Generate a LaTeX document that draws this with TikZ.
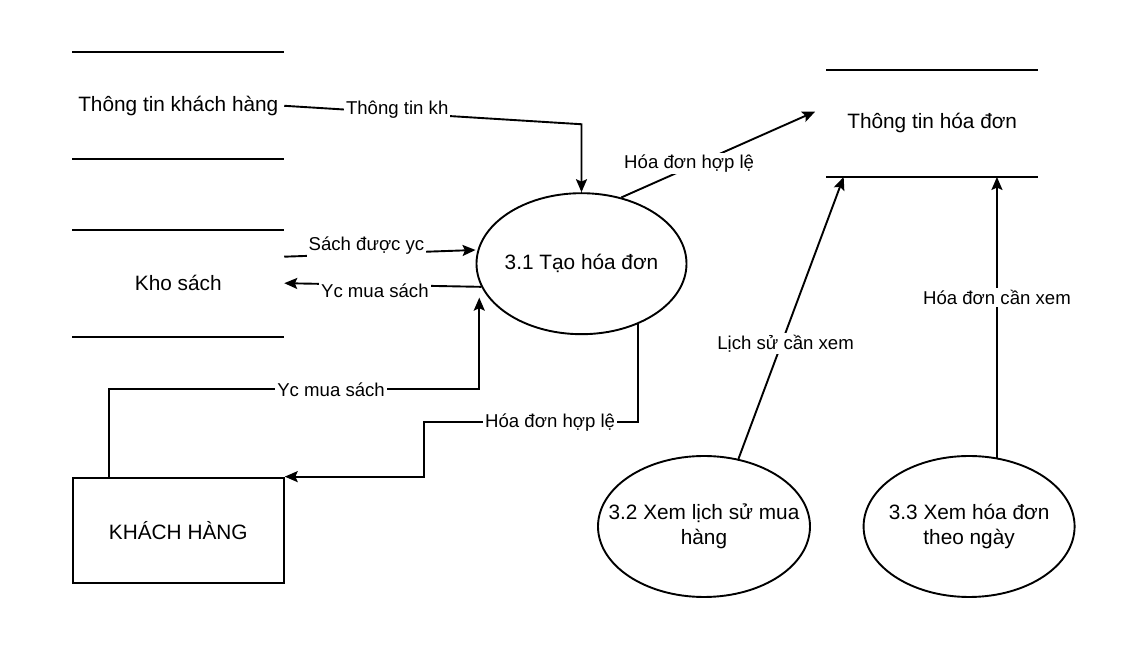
\documentclass[tikz,border=0pt]{standalone}
\usepackage{fontspec}
\setmainfont{Liberation Sans}
\usetikzlibrary{shapes,arrows.meta}
\usetikzlibrary{positioning}
\newcommand{\nodefont}{\fontsize{10.4}{12.5}\selectfont}
\newcommand{\flowfont}{\fontsize{9.3}{11}\selectfont}
\newcommand{\store}[3]{\node[store](#1)[#2]{#3}; \draw (#1.north west) -- (#1.north east) (#1.south west) -- (#1.south east);}
\newcommand{\proc}[4][105pt]{\node[ellipse,draw,minimum width=#1,minimum height=70.5pt,inner sep=0pt,label={[align=center,font=\nodefont]center:#4}](#2)[#3]{};}
\tikzset{
  store/.style={minimum width=105pt,minimum height=52.5pt,inner sep=0pt,font=\nodefont},
  extbox/.style={rectangle,draw,minimum width=105.5pt,minimum height=52.5pt,inner sep=0pt,font=\nodefont},
  lbl/.style={fill=white,inner sep=1pt,font=\flowfont}
}

\begin{document}
\begin{tikzpicture}[x=0.5pt,y=-0.5pt,line width=0.95pt,>={Stealth[length=6.5pt,width=5.5pt,inset=1.2pt]}]
\useasboundingbox (0,0) rectangle (1142,667);

\store{ttkh}{at={(178.3,105.8)}}{Thông tin khách hàng}
\store{kho}{below=35.25pt of ttkh}{Kho sách}
\node[extbox](kh)[below=70pt of kho]{KHÁCH HÀNG};
\store{tthd}{at={(932.2,123.5)}}{Thông tin hóa đơn}

\proc{p31}{at={(581.5,263.7)}}{3.1 Tạo hóa đơn}
\proc[106pt]{p32}{at={(704,526.5)}}{3.2 Xem lịch sử mua\\hàng}
\proc[105.5pt]{p33}{right=25.85pt of p32}{3.3 Xem hóa đơn\\theo ngày}

\draw[->] (ttkh.east) -- node[lbl,pos=0.38,yshift=1.5pt]{Thông tin kh} ([yshift=34pt]p31.north) -- (p31.north);
\draw[->] ([yshift=13.25pt]kho.east) -- node[lbl,pos=0.43,yshift=4pt]{Sách được yc} ([yshift=6.85pt]p31.west);
\draw[->] (p31.193) -- node[lbl,pos=0.54,yshift=-3pt]{Yc mua sách} (kho.east);
\draw[->] ([xshift=-34.75pt]kh.north) -- ++(0,-87.3) -| node[lbl,pos=0.3]{Yc mua sách} ([xshift=-4.5pt]p31.200);
\draw[->] (p31.313) -- ++(0,98) -- node[lbl,pos=0.41]{Hóa đơn hợp lệ} ++(-214,0) |- (kh.north east);
\draw[->] (p31.59) -- node[lbl,pos=0.35,yshift=2pt]{Hóa đơn hợp lệ} ([xshift=-5.5pt,yshift=6pt]tthd.west);
\draw[->] (p32.63) -- node[lbl,pos=0.41,xshift=2pt]{Lịch sử cần xem} ([xshift=8.7pt]tthd.south west);
\draw[->] (p33.68) -- node[lbl,pos=0.57]{Hóa đơn cần xem} (p33.68 |- tthd.south);

\end{tikzpicture}
\end{document}
